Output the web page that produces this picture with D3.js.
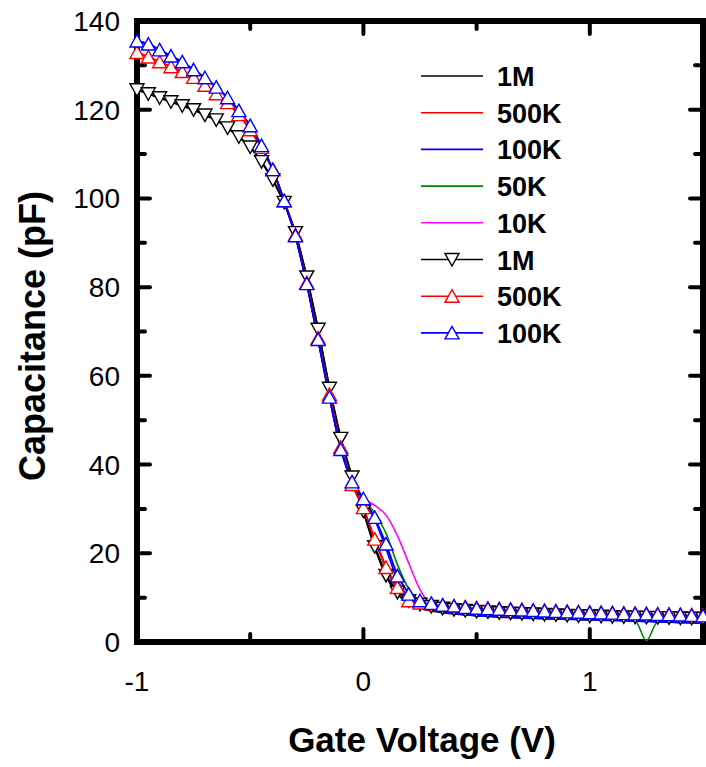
<!DOCTYPE html>
<html>
<head>
<meta charset="utf-8">
<script src="https://cdn.jsdelivr.net/npm/d3@7"></script>
<style>
  html, body { margin: 0; padding: 0; background: #fff; }
  svg { display: block; }
</style>
</head>
<body>
<svg id="chart" width="706" height="767"></svg>
<script>
// ---------- data ----------
const voltage = [-1,-0.95,-0.9,-0.85,-0.8,-0.75,-0.7,-0.65,-0.6,-0.55,-0.5,-0.45,-0.4,-0.35,-0.3,-0.25,-0.2,-0.15,-0.1,-0.05,0,0.05,0.1,0.15,0.2,0.25,0.3,0.35,0.4,0.45,0.5,0.55,0.6,0.65,0.7,0.75,0.8,0.85,0.9,0.95,1,1.05,1.1,1.15,1.2,1.25,1.3,1.35,1.4,1.45,1.5];

// plain lines
const line1M   = [124.5,123.6,122.7,121.8,120.9,120.0,118.8,117.7,115.9,113.9,111.6,108.3,104.2,99.1,92.3,82.3,70.5,57.2,45.9,37.2,29.3,21.3,14.8,10.8,8.6,7.6,7.0,6.6,6.3,6.1,5.9,5.8,5.7,5.6,5.5,5.4,5.3,5.2,5.15,5.1,5.0,4.95,4.9,4.85,4.8,4.75,4.7,4.6,4.55,4.5,4.4];
const line500K = [132.9,131.9,130.8,129.7,128.6,127.3,125.5,123.6,121.6,118.9,115.5,111.5,106.5,99.4,91.8,81.0,68.5,55.8,43.9,35.5,30.0,23.0,16.5,11.8,8.9,7.8,7.2,6.8,6.5,6.2,6.0,5.85,5.75,5.65,5.55,5.45,5.35,5.25,5.2,5.15,5.05,5.0,4.95,4.9,4.85,4.75,4.7,4.6,4.55,4.5,4.4];
const line100K = [135.5,134.8,133.5,132.1,130.8,129.0,127.2,125.1,122.7,119.8,116.4,111.9,106.5,99.5,91.6,80.8,68.2,55.2,43.4,36.1,32.0,27.5,21.0,14.0,10.0,8.2,7.3,6.8,6.5,6.2,5.9,5.75,5.6,5.5,5.4,5.3,5.25,5.2,5.1,5.05,5.0,4.9,4.85,4.8,4.7,4.6,4.5,4.45,4.35,4.3,4.2];
const line50K  = [135.5,134.8,133.5,132.1,130.8,129.0,127.2,125.1,122.7,119.8,116.4,111.9,106.5,99.5,91.6,80.8,68.2,55.2,43.6,36.5,32.5,29.0,24.5,17.5,12.0,9.0,7.6,7.0,6.6,6.3,6.0,5.85,5.7,5.6,5.5,5.4,5.3,5.25,5.15,5.1,5.05,4.95,4.9,4.85,4.75,0.3,4.55,4.5,4.4,4.35,4.25];
const line10K  = [135.5,134.8,133.5,132.1,130.8,129.0,127.2,125.1,122.7,119.8,116.4,111.9,106.5,99.5,91.6,80.8,68.2,55.2,43.6,36.3,32.5,30.8,28.6,24.0,17.8,11.8,8.3,7.2,6.7,6.4,6.1,5.9,5.75,5.65,5.55,5.45,5.35,5.3,5.2,5.15,5.1,5.0,4.95,4.9,4.8,4.7,4.6,4.55,4.45,4.4,4.3];

// marked series
const mark1M   = [124.5,123.6,122.7,121.8,120.9,120.0,118.8,117.7,115.9,113.9,111.6,108.3,104.2,99.1,92.3,82.3,70.5,57.2,45.9,37.2,29.5,21.5,15.0,11.2,9.3,8.5,8.0,7.6,7.3,7.1,6.9,6.8,6.6,6.5,6.4,6.3,6.2,6.1,6.0,5.9,5.85,5.8,5.7,5.65,5.6,5.55,5.5,5.45,5.4,5.35,5.3];
const mark500K = [132.9,131.9,130.8,129.7,128.6,127.3,125.5,123.6,121.6,118.9,115.5,111.5,106.5,99.4,91.8,81.0,68.5,55.8,43.9,35.5,30.3,23.2,16.8,12.3,9.3,8.8,8.6,8.3,8.1,7.9,7.7,7.6,7.5,7.4,7.3,7.2,7.1,7.0,6.9,6.8,6.7,6.65,6.6,6.5,6.45,6.4,6.3,6.25,6.2,6.1,6.0];
const mark100K = [135.5,134.8,133.5,132.1,130.8,129.0,127.2,125.1,122.7,119.8,116.4,111.9,106.5,99.5,91.6,80.8,68.2,55.2,43.4,36.1,32.3,28.1,22.1,14.9,10.8,9.3,8.7,8.3,8.1,7.8,7.6,7.5,7.4,7.3,7.2,7.1,7.0,6.9,6.8,6.7,6.6,6.55,6.5,6.4,6.35,6.3,6.2,6.15,6.1,6.0,5.9];

const legendLabels = ["1M","500K","100K","50K","10K","1M","500K","100K"];
const xTicksMajor = [-1, 0, 1];
const xTicksMinor = [-0.5, 0.5];
const yTicksMajor = [0, 20, 40, 60, 80, 100, 120, 140];
const yTicksMinor = [10, 30, 50, 70, 90, 110, 130];

// ---------- setup ----------
const svg = d3.select("#chart");
const L = 137, R = 703, T = 21, B = 642;
const x = d3.scaleLinear().domain([-1, 1.5]).range([L, R]);
const y = d3.scaleLinear().domain([0, 140]).range([B, T]);

const series = [
  {name: "10K", vals: line10K, color: "#ff00ff", marker: null},
  {name: "50K", vals: line50K, color: "#008000", marker: null},
  {name: "1M", vals: line1M, color: "#000000", marker: null},
  {name: "500K", vals: line500K, color: "#ff0000", marker: null},
  {name: "100K", vals: line100K, color: "#0000ff", marker: null},
  {name: "1M", vals: mark1M, color: "#000000", marker: "down"},
  {name: "500K", vals: mark500K, color: "#ff0000", marker: "up"},
  {name: "100K", vals: mark100K, color: "#0000ff", marker: "up"}
];

const upPath = "M0,-6.5L7,6L-7,6Z";
const downPath = "M0,6.5L7,-6L-7,-6Z";

const lineLin = d3.line().x((d, i) => x(voltage[i])).y(d => y(d));
const lineSmooth = d3.line().x((d, i) => x(voltage[i])).y(d => y(d)).curve(d3.curveMonotoneX);

// ---------- frame & ticks ----------
const axisG = svg.append("g");
const frameW = 6;
axisG.append("rect")
  .attr("x", L).attr("y", T).attr("width", R - L).attr("height", B - T)
  .attr("fill", "none").attr("stroke", "#000").attr("stroke-width", frameW);

function tickSet(vals, len, isX) {
  vals.forEach(v => {
    if (isX) {
      axisG.append("line").attr("x1", x(v)).attr("x2", x(v)).attr("y1", B).attr("y2", B - len)
        .attr("stroke", "#000").attr("stroke-width", 4).attr("stroke-linecap", "round");
      axisG.append("line").attr("x1", x(v)).attr("x2", x(v)).attr("y1", T).attr("y2", T + len)
        .attr("stroke", "#000").attr("stroke-width", 4).attr("stroke-linecap", "round");
    } else {
      axisG.append("line").attr("x1", L).attr("x2", L + len).attr("y1", y(v)).attr("y2", y(v))
        .attr("stroke", "#000").attr("stroke-width", 4).attr("stroke-linecap", "round");
      axisG.append("line").attr("x1", R).attr("x2", R - len).attr("y1", y(v)).attr("y2", y(v))
        .attr("stroke", "#000").attr("stroke-width", 4).attr("stroke-linecap", "round");
    }
  });
}
tickSet(xTicksMajor, 13, true);
tickSet(xTicksMinor, 8, true);
tickSet(yTicksMajor.filter(v => v > 0 && v < 140), 13, false);
tickSet(yTicksMinor, 8, false);

// tick labels
svg.append("g").selectAll("text").data(xTicksMajor).join("text")
  .attr("x", d => x(d)).attr("y", 691)
  .attr("text-anchor", "middle")
  .attr("font-family", "Arial, 'Liberation Sans', sans-serif")
  .attr("font-size", 28)
  .text(d => d);

svg.append("g").selectAll("text").data(yTicksMajor).join("text")
  .attr("x", 120).attr("y", d => y(d) + 10)
  .attr("text-anchor", "end")
  .attr("font-family", "Arial, 'Liberation Sans', sans-serif")
  .attr("font-size", 28)
  .text(d => d);

// axis titles
svg.append("text")
  .attr("x", 422).attr("y", 752)
  .attr("text-anchor", "middle")
  .attr("font-family", "Arial, 'Liberation Sans', sans-serif")
  .attr("font-weight", "bold")
  .attr("font-size", 35)
  .text("Gate Voltage (V)");

svg.append("text")
  .attr("transform", "translate(45,336) rotate(-90)")
  .attr("text-anchor", "middle")
  .attr("font-family", "Arial, 'Liberation Sans', sans-serif")
  .attr("font-weight", "bold")
  .attr("font-size", 36)
  .text("Capacitance (pF)");

// ---------- data lines ----------
const plotG = svg.append("g");
series.forEach(s => {
  plotG.append("path")
    .attr("d", s.marker ? lineLin(s.vals) : lineSmooth(s.vals))
    .attr("fill", "none")
    .attr("stroke", s.color)
    .attr("stroke-width", s.marker ? 2 : 1.6)
    .attr("stroke-linejoin", "round");
});
series.filter(s => s.marker).forEach(s => {
  plotG.append("g").selectAll("path").data(s.vals).join("path")
    .attr("transform", (d, i) => `translate(${x(voltage[i])},${y(d)})`)
    .attr("d", s.marker === "up" ? upPath : downPath)
    .attr("fill", "#fff")
    .attr("stroke", s.color)
    .attr("stroke-width", 1.4);
});

// ---------- legend ----------
const legendColors = ["#000000","#ff0000","#0000ff","#008000","#ff00ff","#000000","#ff0000","#0000ff"];
const legendMarkers = [null,null,null,null,null,"down","up","up"];
const legY0 = 76, legDy = 36.7;
const legG = svg.append("g");
legendLabels.forEach((lab, i) => {
  const yy = legY0 + i * legDy;
  legG.append("line").attr("x1", 421).attr("x2", 483).attr("y1", yy).attr("y2", yy)
    .attr("stroke", legendColors[i]).attr("stroke-width", 1.6);
  if (legendMarkers[i]) {
    legG.append("path")
      .attr("transform", `translate(452,${yy})`)
      .attr("d", legendMarkers[i] === "up" ? upPath : downPath)
      .attr("fill", "#fff").attr("stroke", legendColors[i]).attr("stroke-width", 1.4);
  }
  legG.append("text")
    .attr("x", 497).attr("y", yy + 10)
    .attr("font-family", "Arial, 'Liberation Sans', sans-serif")
    .attr("font-weight", "bold")
    .attr("font-size", 27)
    .text(lab);
});
</script>
</body>
</html>
